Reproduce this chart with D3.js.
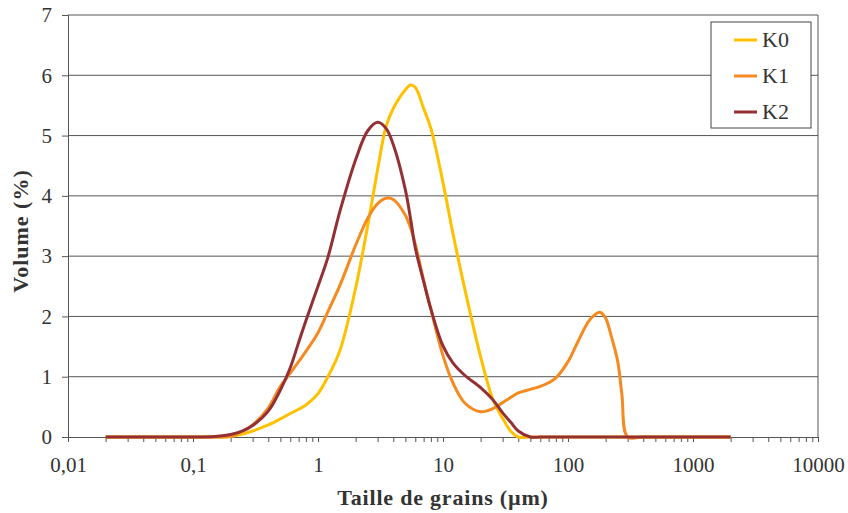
<!DOCTYPE html>
<html lang="fr">
<head>
    <meta charset="UTF-8">
    <title>Granulométrie K0 K1 K2</title>
    <script src="https://d3js.org/d3.v7.min.js" charset="utf-8"></script>
    <style>
        body { margin: 0; background: white; }
        svg { display: block; background: white; }
    </style>
</head>
<body>
    <div id="chart"></div>
    <script>

    // grain sizes (µm)
    var sizes = [0.02, 0.05, 0.1, 0.15, 0.2, 0.25, 0.3, 0.4, 0.5, 0.6, 0.7, 0.8, 1, 1.2, 1.5, 2, 2.5, 3, 3.5, 4, 5, 5.5, 6, 7, 8, 10, 12, 15, 20, 25, 30, 35, 40, 50, 60, 70, 80, 100, 120, 150, 180, 200, 220, 250, 270, 300, 400, 1000, 2000];

    // volume (%) per series
    var k0 = [0, 0, 0, 0, 0.01, 0.05, 0.1, 0.2, 0.3, 0.39, 0.46, 0.53, 0.72, 1.0, 1.44, 2.47, 3.51, 4.44, 5.15, 5.45, 5.76, 5.84, 5.8, 5.45, 5.12, 4.22, 3.38, 2.44, 1.33, 0.63, 0.31, 0.09, 0, 0, 0, 0, 0, 0, 0, 0, 0, 0, 0, 0, 0, 0, 0, 0, 0];
    var k1 = [0, 0, 0, 0, 0.01, 0.1, 0.2, 0.48, 0.84, 1.06, 1.25, 1.42, 1.73, 2.08, 2.52, 3.18, 3.63, 3.87, 3.96, 3.94, 3.68, 3.47, 3.2, 2.6, 2.12, 1.35, 0.9, 0.56, 0.42, 0.47, 0.57, 0.66, 0.73, 0.79, 0.84, 0.9, 0.98, 1.25, 1.58, 1.95, 2.07, 1.97, 1.7, 1.25, 0.7, 0, 0, 0, 0];
    var k2 = [0, 0, 0, 0.01, 0.04, 0.1, 0.19, 0.43, 0.78, 1.15, 1.57, 1.93, 2.5, 2.98, 3.75, 4.6, 5.08, 5.22, 5.12, 4.85, 4.1, 3.62, 3.14, 2.58, 2.12, 1.51, 1.23, 1.02, 0.82, 0.62, 0.4, 0.24, 0.1, 0, 0, 0, 0, 0, 0, 0, 0, 0, 0, 0, 0, 0, 0, 0, 0];

    var seriesNames = ['K0', 'K1', 'K2'];
    var seriesColors = ['#FFC000', '#F58A20', '#943034'];

    var xTickValues = [0.01, 0.1, 1, 10, 100, 1000, 10000];
    var xTickLabels = ['0,01', '0,1', '1', '10', '100', '1000', '10000'];
    var yTickValues = [0, 1, 2, 3, 4, 5, 6, 7];

    var svgWidth = 848;
    var svgHeight = 513;
    var plotLeft = 68, plotRight = 818, plotTop = 15, plotBottom = 437;

    var svg = d3.select('#chart')
                .append('svg')
                .attr('width', svgWidth)
                .attr('height', svgHeight);

    var x_scale = d3.scaleLog()
        .domain([0.01, 10000])
        .range([plotLeft, plotRight]);

    var y_scale = d3.scaleLinear()
        .domain([0, 7])
        .range([plotBottom, plotTop]);

    // horizontal grid lines
    svg.append('g')
        .selectAll('line')
        .data(yTickValues.slice(1))
        .enter()
        .append('line')
        .attr('x1', plotLeft)
        .attr('x2', plotRight)
        .attr('y1', d => y_scale(d))
        .attr('y2', d => y_scale(d))
        .attr('stroke', '#555')
        .attr('stroke-width', 1);

    // right border
    svg.append('line')
        .attr('x1', plotRight).attr('x2', plotRight)
        .attr('y1', plotTop).attr('y2', plotBottom)
        .attr('stroke', '#555');

    // minor + major ticks on the x axis
    var minorTicks = [];
    for (var e = -2; e < 4; e++) {
        for (var m = 1; m < 10; m++) minorTicks.push(m * Math.pow(10, e));
    }
    minorTicks.push(10000);

    var x_axis = d3.axisBottom(x_scale)
        .tickValues(minorTicks)
        .tickSize(5)
        .tickFormat(d => {
            var i = xTickValues.findIndex(v => Math.abs(v - d) / v < 1e-6);
            return i >= 0 ? xTickLabels[i] : '';
        });

    var gx = svg.append('g')
        .attr('transform', 'translate(0,' + plotBottom + ')')
        .call(x_axis);
    gx.select('.domain').attr('stroke', '#555');
    gx.selectAll('.tick line').attr('stroke', '#555');
    gx.selectAll('.tick text')
        .attr('y', 20)
        .attr('dy', '0.71em')
        .style('font-family', 'Liberation Serif')
        .style('font-size', '21px')
        .attr('fill', '#333');

    var y_axis = d3.axisLeft(y_scale)
        .tickValues(yTickValues)
        .tickSize(6)
        .tickPadding(10)
        .tickFormat(d => d);

    var gy = svg.append('g')
        .attr('transform', 'translate(' + plotLeft + ',0)')
        .call(y_axis);
    gy.select('.domain').attr('stroke', '#555');
    gy.selectAll('.tick line').attr('stroke', '#555');
    gy.selectAll('.tick text')
        .style('font-family', 'Liberation Serif')
        .style('font-size', '21px')
        .attr('fill', '#333');

    // the curves
    var seriesData = [k0, k1, k2];
    var line = d3.line()
        .x(d => x_scale(d[0]))
        .y(d => Math.min(y_scale(d[1]), plotBottom))
        .curve(d3.curveCatmullRom.alpha(0.5));

    seriesData.forEach(function(values, i) {
        var pts = sizes.map((s, j) => [s, values[j]]);
        svg.append('path')
            .datum(pts)
            .attr('d', line)
            .attr('fill', 'none')
            .attr('stroke', seriesColors[i])
            .attr('stroke-width', 3)
            .attr('stroke-linejoin', 'round');
    });

    // axis titles
    svg.append('text')
        .attr('x', 443)
        .attr('y', 505)
        .attr('text-anchor', 'middle')
        .style('font-family', 'Liberation Serif')
        .style('font-weight', 'bold')
        .style('font-size', '22px')
        .style('letter-spacing', '0.8px')
        .attr('fill', '#333')
        .text('Taille de grains (µm)');

    svg.append('text')
        .attr('transform', 'translate(28,231) rotate(-90)')
        .attr('text-anchor', 'middle')
        .style('font-family', 'Liberation Serif')
        .style('font-weight', 'bold')
        .style('font-size', '22px')
        .style('letter-spacing', '1px')
        .attr('fill', '#333')
        .text('Volume (%)');

    // legend
    var legend = svg.append('g');
    legend.append('rect')
        .attr('x', 711).attr('y', 22)
        .attr('width', 100).attr('height', 106)
        .attr('fill', 'white')
        .attr('stroke', '#444');

    var items = legend.selectAll('.item')
        .data(seriesNames)
        .enter()
        .append('g')
        .attr('class', 'item')
        .attr('transform', (d, i) => 'translate(0,' + (40 + i * 36) + ')');

    items.append('line')
        .attr('x1', 734).attr('x2', 757)
        .attr('stroke', (d, i) => seriesColors[i])
        .attr('stroke-width', 3);

    items.append('text')
        .attr('x', 762)
        .attr('y', 7)
        .style('font-family', 'Liberation Serif')
        .style('font-size', '22px')
        .attr('fill', '#333')
        .text(d => d);

    </script>
</body>
</html>
